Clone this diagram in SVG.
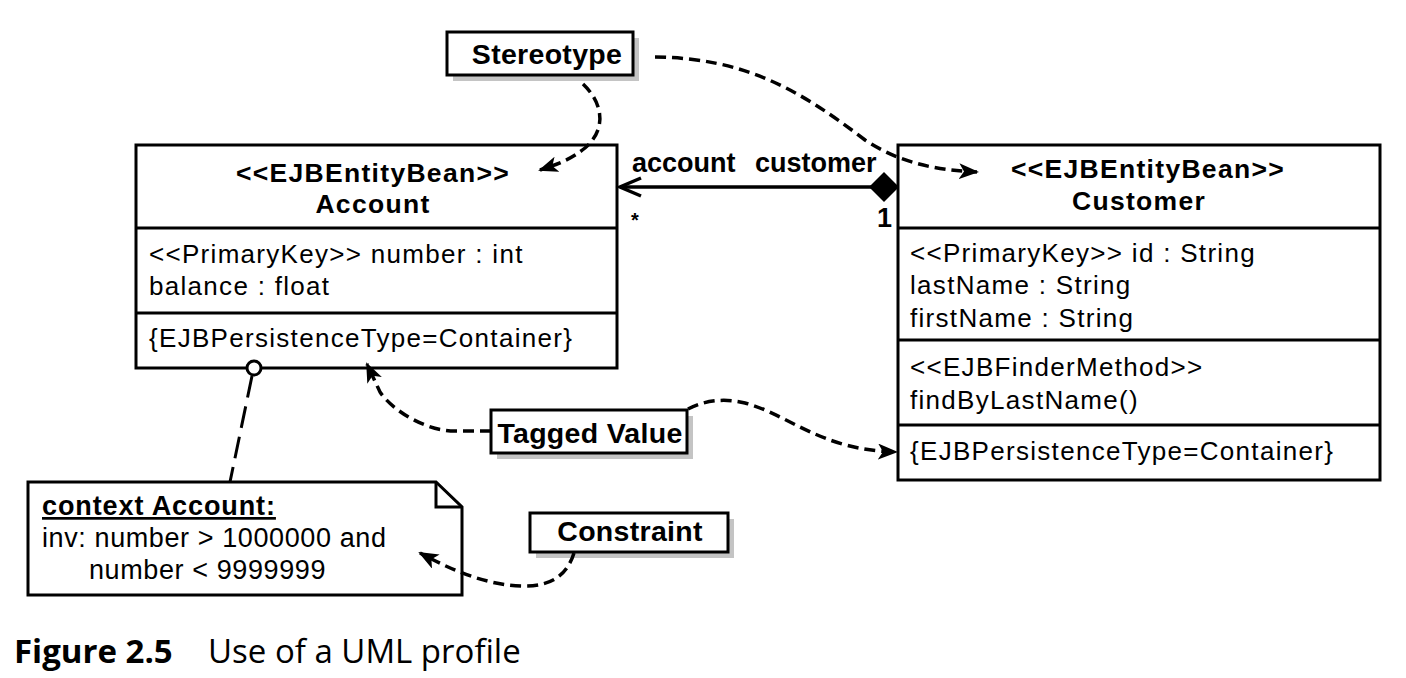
<svg xmlns="http://www.w3.org/2000/svg" width="1406" height="678" viewBox="0 0 1406 678">
<defs>
<style>
.box{fill:#fff;stroke:#000;stroke-width:3}
.shadow{fill:#c4c4c4}
.sep{stroke:#000;stroke-width:3}
.hd{font-family:"Liberation Sans",Arial,sans-serif;font-weight:bold;font-size:26.5px;letter-spacing:1.3px;fill:#000}
.lb{font-family:"Liberation Sans",Arial,sans-serif;font-weight:bold;font-size:28.5px;letter-spacing:0.3px;fill:#000}
.as{font-family:"Liberation Sans",Arial,sans-serif;font-weight:bold;font-size:27px;fill:#000}
.r{font-family:"Liberation Sans",Arial,sans-serif;font-size:26px;letter-spacing:1.3px;fill:#000}
.nb{font-family:"Liberation Sans",Arial,sans-serif;font-weight:bold;font-size:27px;letter-spacing:0.9px;fill:#000}
.nr{font-family:"Liberation Sans",Arial,sans-serif;font-size:27px;letter-spacing:0.6px;fill:#000}
.dash{fill:none;stroke:#000;stroke-width:3.5;stroke-dasharray:11 6}
.cap{font-family:"Open Sans","Noto Sans",sans-serif;font-size:33px;fill:#000}
</style>
<marker id="ah" viewBox="0 0 20 16" refX="18" refY="8" markerWidth="20" markerHeight="16" markerUnits="userSpaceOnUse" orient="auto">
<path d="M0,0 L20,8 L0,16 L5,8 z" fill="#000"/>
</marker>
</defs>
<rect width="1406" height="678" fill="#fff"/>

<g id="stereotype">
<rect class="shadow" x="453" y="38" width="186" height="43"/>
<rect class="box" x="447" y="32" width="186" height="43"/>
<text class="lb" x="547" y="64" text-anchor="middle">Stereotype</text>
</g>

<g id="account">
<rect class="box" x="136" y="145" width="481" height="223"/>
<line class="sep" x1="136" y1="228" x2="617" y2="228"/>
<line class="sep" x1="136" y1="313" x2="617" y2="313"/>
<text class="hd" x="373" y="182" text-anchor="middle">&lt;&lt;EJBEntityBean&gt;&gt;</text>
<text class="hd" x="373" y="213" text-anchor="middle">Account</text>
<text class="r" x="149" y="263">&lt;&lt;PrimaryKey&gt;&gt; number : int</text>
<text class="r" x="149" y="295">balance : float</text>
<text class="r" x="149" y="347">{EJBPersistenceType=Container}</text>
</g>

<g id="customer">
<rect class="box" x="898" y="145" width="482" height="335"/>
<line class="sep" x1="898" y1="228" x2="1380" y2="228"/>
<line class="sep" x1="898" y1="340" x2="1380" y2="340"/>
<line class="sep" x1="898" y1="425" x2="1380" y2="425"/>
<text class="hd" x="1148" y="178" text-anchor="middle">&lt;&lt;EJBEntityBean&gt;&gt;</text>
<text class="hd" x="1139" y="210" text-anchor="middle">Customer</text>
<text class="r" x="910" y="262">&lt;&lt;PrimaryKey&gt;&gt; id : String</text>
<text class="r" x="910" y="294">lastName : String</text>
<text class="r" x="910" y="327">firstName : String</text>
<text class="r" x="910" y="376">&lt;&lt;EJBFinderMethod&gt;&gt;</text>
<text class="r" x="910" y="409">findByLastName()</text>
<text class="r" x="910" y="460">{EJBPersistenceType=Container}</text>
</g>

<g id="tagged-value">
<rect class="shadow" x="497" y="416" width="196" height="43"/>
<rect class="box" x="491" y="410" width="196" height="43"/>
<text class="lb" x="590" y="443" text-anchor="middle">Tagged Value</text>
</g>

<g id="constraint">
<rect class="shadow" x="536" y="519" width="198" height="39"/>
<rect class="box" x="530" y="513" width="198" height="39"/>
<text class="lb" x="630" y="541" text-anchor="middle">Constraint</text>
</g>

<g id="note">
<path class="box" d="M28,482 L436,482 L462,507 L462,595 L28,595 Z"/>
<path d="M436,482 L436,507 L462,507" fill="none" stroke="#000" stroke-width="3"/>
<text class="nb" x="42" y="515" text-decoration="underline">context Account:</text>
<text class="nr" x="42" y="547">inv: number &gt; 1000000 and</text>
<text class="nr" x="89" y="579">number &lt; 9999999</text>
</g>

<g id="connectors">
<path class="dash" d="M583,84 C602,102 608,128 585,148 C570,160 558,164 540,170" marker-end="url(#ah)"/>
<path class="dash" d="M655,57 C745,58 800,90 865,140 C900,163 935,170 977,172" marker-end="url(#ah)"/>
<path class="dash" d="M491,431 L455,431 C425,431 392,410 380,392 L367,364" marker-end="url(#ah)"/>
<path class="dash" d="M688,409 C705,400 725,398 745,403 C790,415 820,450 896,452" marker-end="url(#ah)"/>
<path class="dash" d="M574,553 C568,572 555,586 525,586 C490,586 455,572 420,553" marker-end="url(#ah)"/>
<path d="M252,376 L230,482" fill="none" stroke="#000" stroke-width="3" stroke-dasharray="22 9"/>
<circle cx="254" cy="368" r="7" fill="#fff" stroke="#000" stroke-width="3"/>
<g id="association">
<line x1="620" y1="187" x2="872" y2="187" stroke="#000" stroke-width="3.5"/>
<path d="M641,178 L620,187 L641,196" fill="none" stroke="#000" stroke-width="3.5"/>
<path d="M869,187 L884,172 L899,187 L884,202 z" fill="#000"/>
<text class="as" x="632" y="172">account</text>
<text class="as" x="755" y="172">customer</text>
<text class="as" x="631" y="227" style="font-size:20px">*</text>
<text class="as" x="877" y="227">1</text>
</g>
</g>

<g id="caption">
<text class="cap" x="14" y="663"><tspan font-weight="bold">Figure 2.5</tspan><tspan x="208">Use of a UML profile</tspan></text>
</g>
</svg>
